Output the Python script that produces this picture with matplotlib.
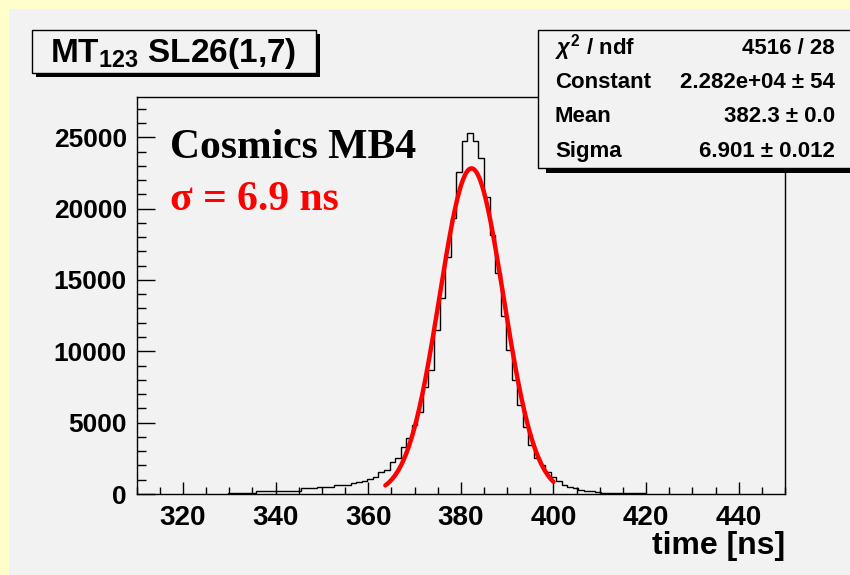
import matplotlib
matplotlib.use('Agg')
import matplotlib.pyplot as plt
from matplotlib.patches import Rectangle
from matplotlib.ticker import MultipleLocator
import numpy as np

plt.rcParams['font.family'] = 'Liberation Sans'
plt.rcParams['font.weight'] = 'bold'
plt.rcParams['mathtext.fontset'] = 'custom'
plt.rcParams['mathtext.rm'] = 'Liberation Sans:bold'
plt.rcParams['mathtext.it'] = 'Liberation Sans:italic:bold'
plt.rcParams['mathtext.bf'] = 'Liberation Sans:bold'

# drift time histogram, 1.2 ns bins starting at 329.8 ns
bin_lo = 329.8
bin_width = 1.2
counts = [60, 70, 70, 80, 80,
          230, 235, 230, 235, 240, 235, 240, 245,
          400, 400, 410,
          510, 515, 520,
          630, 630, 635,
          795, 870, 915, 1050, 1170, 1520, 1680, 2220, 2500, 3270, 3900,
          4840, 5770, 7530, 8700, 11500, 13720, 16640, 19330, 22600,
          24710, 25290, 24710, 23540, 20800, 18160, 15480, 12440, 10100,
          8000, 6240, 4720, 3440, 2500, 2030, 1570, 1215, 910, 630, 515,
          400, 300, 235, 230, 120,
          90, 80, 80, 70, 70, 60, 60, 50]

# gaussian fit result
fit_const = 2.282e4
fit_mean = 382.3
fit_sigma = 6.901
fit_lo, fit_hi = 363.7, 400.0

stat_names = [r'$\chi^{2}$ / ndf', 'Constant', 'Mean', 'Sigma']
stat_values = ['4516 / 28', u'2.282e+04 \u00b1 54', u'382.3 \u00b1 0.0', u'6.901 \u00b1 0.012']

W, H = 850, 575
fig = plt.figure(figsize=(8.5, 5.75), dpi=100, facecolor='#FFFFCC')

def px_rect(x0, y0, x1, y1, **kw):
    # rectangle given in pixel coords from the top-left corner
    r = Rectangle((x0 / W, 1 - y1 / H), (x1 - x0) / W, (y1 - y0) / H,
                  transform=fig.transFigure, clip_on=False, **kw)
    fig.patches.append(r)
    return r

# grey canvas
px_rect(9, 9, 860, 585, facecolor='#F2F2F2', edgecolor='none', zorder=-10)

# frame
ax = fig.add_axes([136.7 / W, 1 - 494 / H, (785 - 136.7) / W, (494 - 97.3) / H])
ax.set_zorder(0)
ax.set_facecolor('#F2F2F2')
for s in ax.spines.values():
    s.set_linewidth(1.0)

edges = bin_lo + bin_width * np.arange(len(counts) + 1)
ax.stairs(counts, edges, color='black', lw=1.0)

xf = np.linspace(fit_lo, fit_hi, 300)
ax.plot(xf, fit_const * np.exp(-0.5 * ((xf - fit_mean) / fit_sigma) ** 2),
        color='#FF0000', lw=3.2, solid_capstyle='round')

ax.set_xlim(310, 450)
ax.set_ylim(0, 27800)
ax.xaxis.set_major_locator(MultipleLocator(20))
ax.xaxis.set_minor_locator(MultipleLocator(5))
ax.yaxis.set_major_locator(MultipleLocator(5000))
ax.yaxis.set_minor_locator(MultipleLocator(1000))
ax.tick_params(axis='both', which='both', direction='in', top=False, right=False,
               width=1.0, labelsize=19)
ax.tick_params(axis='x', which='major', length=8.6, pad=8, labelsize=20)
ax.tick_params(axis='x', which='minor', length=4.8)
ax.tick_params(axis='y', which='major', length=13, pad=7)
ax.tick_params(axis='y', which='minor', length=6.5)

fig.text(785 / W, 1 - 531 / H, 'time [ns]', ha='right', va='top',
         fontsize=23, fontweight='bold', zorder=10)

fig.text(170 / W, 1 - 158 / H, 'Cosmics MB4', family='Liberation Serif',
         fontweight='bold', fontsize=30, color='black', va='baseline', zorder=10)
fig.text(170 / W, 1 - 210 / H, u'\u03c3 = 6.9 ns', family='Liberation Serif',
         fontweight='bold', fontsize=30, color='#FF0000', va='baseline', zorder=10)

# title box with shadow
px_rect(36, 34, 320, 77, facecolor='black', edgecolor='none', zorder=11)
px_rect(32, 30, 316, 73, facecolor='#F2F2F2', edgecolor='black', lw=1.0, zorder=12)
fig.text(50 / W, 1 - 62 / H, r'MT$_{123}$ SL26(1,7)', fontsize=24,
         fontweight='bold', va='baseline', zorder=13)

# fit statistics box with shadow
px_rect(546, 35, 870, 173, facecolor='black', edgecolor='none', zorder=14)
px_rect(538, 30, 865, 168, facecolor='#F2F2F2', edgecolor='black', lw=1.0, zorder=15)
for i, (name, val) in enumerate(zip(stat_names, stat_values)):
    y = 1 - (48 + 34.5 * i) / H
    fig.text(555 / W, y, name, fontsize=16, fontweight='bold', va='center', zorder=16)
    fig.text(835 / W, y, val, fontsize=16, fontweight='bold', va='center',
             ha='right', zorder=16)

fig.savefig('out.png', dpi=100, facecolor=fig.get_facecolor())
